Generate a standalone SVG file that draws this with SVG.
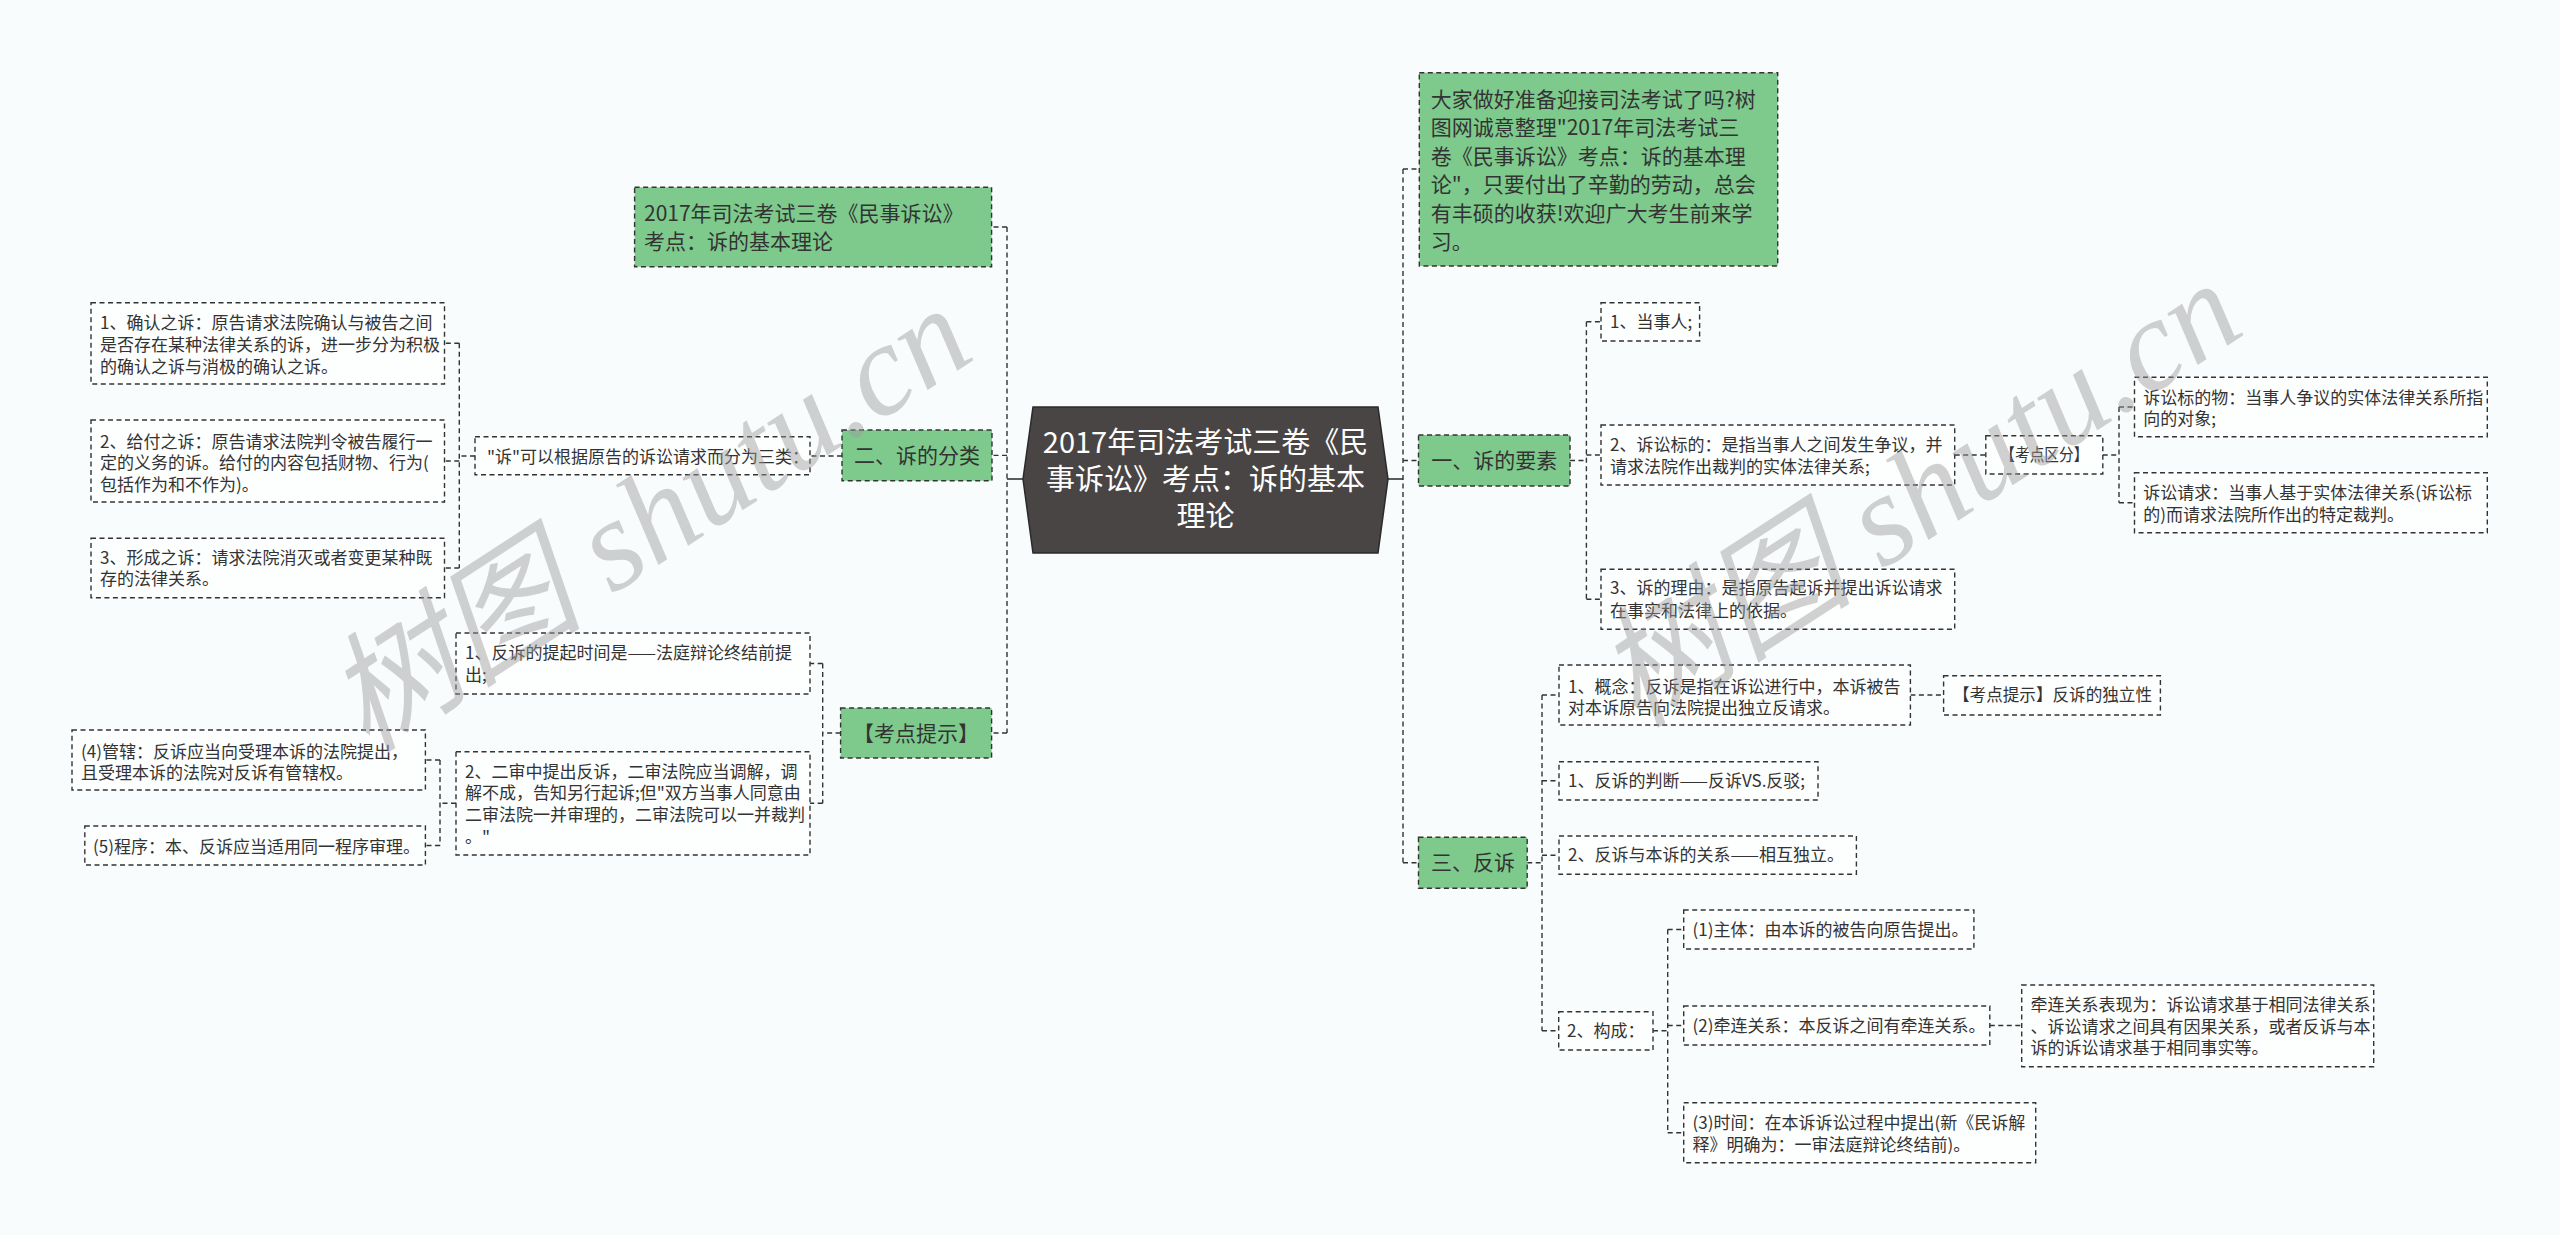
<svg xmlns="http://www.w3.org/2000/svg" width="2560" height="1235" viewBox="0 0 2560 1235">
<style>
.bg{fill:#f9fcfd}
.g{fill:#7dca8c;stroke:#333;stroke-width:1.4;stroke-dasharray:5 3.5}
.w{fill:#fdfefe;stroke:#333;stroke-width:1.4;stroke-dasharray:5 3.5}
.t{font-family:"Noto Sans CJK SC","Noto Sans",sans-serif;fill:#333}
.s{font-size:17px}
.m{font-size:21px}
.c{font-size:29px;fill:#ffffff}
.ln{fill:none;stroke:#333;stroke-width:1.4;stroke-dasharray:5 3.5}
.sl{fill:none;stroke:#333;stroke-width:1.6}
.wm{font-family:"Liberation Serif","Noto Sans CJK SC",serif;font-style:italic;font-size:130px;fill:#9a9a9a;opacity:0.45}
</style>
<rect class="bg" x="0" y="0" width="2560" height="1235"/>

<g id="connectors">
<path class="sl" d="M1023,479 H1007"/>
<path class="ln" d="M1007,227 V733 M1007,227 H992 M1007,455.4 H992 M1007,733 H992"/>
<path class="sl" d="M1388,479 H1403"/>
<path class="ln" d="M1403,169 V862.8 M1403,169 H1419.3 M1403,460.5 H1418.5 M1403,862.8 H1418.5"/>
<path class="ln" d="M842,456 H810"/>
<path class="ln" d="M475,456 H459.3 M459.3,343.3 V568 M459.3,343.3 H444.5 M459.3,461 H444.5 M459.3,568 H444.5"/>
<path class="ln" d="M840.6,733 H822.7 M822.7,663.5 V803.3 M822.7,663.5 H810 M822.7,803.3 H810"/>
<path class="ln" d="M456,803.3 H440 M440,760 V845.5 M440,760 H425.4 M440,845.5 H425.4"/>
<path class="ln" d="M1570,460.5 H1586.4 M1586.4,321.8 V599.3 M1586.4,321.8 H1601 M1586.4,455 H1601 M1586.4,599.3 H1601"/>
<path class="ln" d="M1954.7,455 H1985.8"/>
<path class="ln" d="M2102.7,455 H2119 M2119,407 V502.7 M2119,407 H2134.5 M2119,502.7 H2134.5"/>
<path class="ln" d="M1527.2,862.8 H1542 M1542,695 V1030.8 M1542,695 H1559 M1542,780.8 H1559 M1542,855.2 H1559 M1542,1030.8 H1558.7"/>
<path class="ln" d="M1910.4,695 H1943.6"/>
<path class="ln" d="M1653,1030.8 H1667.7 M1667.7,929.5 V1132.7 M1667.7,929.5 H1683.7 M1667.7,1025.5 H1683.7 M1667.7,1132.7 H1683.7"/>
<path class="ln" d="M1989.8,1025.5 H2021.7"/>
</g>

<g id="root">
<polygon points="1023,479 1033,407 1378,407 1388,479 1378,553 1033,553" fill="#4a4545" stroke="#2a2a2a" stroke-width="1.5"/>
<text class="t c" text-anchor="middle"><tspan x="1205.5" y="453.4">2017年司法考试三卷《民</tspan><tspan x="1205.5" y="490.4">事诉讼》考点：诉的基本</tspan><tspan x="1205.5" y="527.4">理论</tspan></text>
</g>

<g id="node-title-left">
<rect class="g" x="634.6" y="187.3" width="357" height="79.4"/>
<text class="t m"><tspan x="644" y="220.6">2017年司法考试三卷《民事诉讼》</tspan><tspan x="644" y="248.6">考点：诉的基本理论</tspan></text>
</g>

<g id="node-fenlei">
<rect class="g" x="842" y="430" width="150" height="50.7"/>
<text class="t m" x="917" y="463" text-anchor="middle">二、诉的分类</text>
</g>

<g id="node-fenlei-desc">
<rect class="w" x="475" y="436.7" width="335" height="38"/>
<text class="t s" x="487" y="462.8">"诉"可以根据原告的诉讼请求而分为三类：</text>
</g>

<g id="node-queren">
<rect class="w" x="91" y="302.7" width="353.5" height="81.3"/>
<text class="t s"><tspan x="100" y="329.4">1、确认之诉：原告请求法院确认与被告之间</tspan><tspan x="100" y="351.1">是否存在某种法律关系的诉，进一步分为积极</tspan><tspan x="100" y="372.8">的确认之诉与消极的确认之诉。</tspan></text>
</g>

<g id="node-geifu">
<rect class="w" x="91" y="420" width="353.5" height="82"/>
<text class="t s"><tspan x="100" y="447.8">2、给付之诉：原告请求法院判令被告履行一</tspan><tspan x="100" y="469.1">定的义务的诉。给付的内容包括财物、行为(</tspan><tspan x="100" y="491.1">包括作为和不作为)。</tspan></text>
</g>

<g id="node-xingcheng">
<rect class="w" x="91" y="538.3" width="353.5" height="59.4"/>
<text class="t s"><tspan x="100" y="563.8">3、形成之诉：请求法院消灭或者变更某种既</tspan><tspan x="100" y="585.4">存的法律关系。</tspan></text>
</g>

<g id="node-kaodian-tishi">
<rect class="g" x="840.6" y="708" width="151" height="50"/>
<text class="t m" x="916" y="740.6" text-anchor="middle">【考点提示】</text>
</g>

<g id="node-tiqi-shijian">
<rect class="w" x="456" y="633" width="354" height="61"/>
<text class="t s"><tspan x="465" y="659.1">1、反诉的提起时间是——法庭辩论终结前提</tspan><tspan x="465" y="681.1">出;</tspan></text>
</g>

<g id="node-ershen">
<rect class="w" x="456" y="751.7" width="354" height="103.3"/>
<text class="t s"><tspan x="465" y="777.8">2、二审中提出反诉，二审法院应当调解，调</tspan><tspan x="465" y="799.1">解不成，告知另行起诉;但"双方当事人同意由</tspan><tspan x="465" y="821.1">二审法院一并审理的，二审法院可以一并裁判</tspan><tspan x="465" y="842.8">。"</tspan></text>
</g>

<g id="node-guanxia">
<rect class="w" x="72" y="730" width="353.4" height="60"/>
<text class="t s"><tspan x="81" y="757.8">(4)管辖：反诉应当向受理本诉的法院提出，</tspan><tspan x="81" y="778.8">且受理本诉的法院对反诉有管辖权。</tspan></text>
</g>

<g id="node-chengxu">
<rect class="w" x="84.8" y="826" width="340.6" height="39"/>
<text class="t s" x="93" y="852.8">(5)程序：本、反诉应当适用同一程序审理。</text>
</g>

<g id="node-desc">
<rect class="g" x="1419.3" y="72.7" width="358.4" height="193.3"/>
<text class="t m"><tspan x="1430.7" y="106.9">大家做好准备迎接司法考试了吗?树</tspan><tspan x="1430.7" y="135.4">图网诚意整理"2017年司法考试三</tspan><tspan x="1430.7" y="163.9">卷《民事诉讼》考点：诉的基本理</tspan><tspan x="1430.7" y="192.4">论"，只要付出了辛勤的劳动，总会</tspan><tspan x="1430.7" y="220.9">有丰硕的收获!欢迎广大考生前来学</tspan><tspan x="1430.7" y="249.4">习。</tspan></text>
</g>

<g id="node-yaosu">
<rect class="g" x="1418.5" y="435" width="151.5" height="51"/>
<text class="t m" x="1494.2" y="468.1" text-anchor="middle">一、诉的要素</text>
</g>

<g id="node-dangshiren">
<rect class="w" x="1601" y="302.7" width="98.6" height="38.3"/>
<text class="t s" x="1610" y="327.9">1、当事人;</text>
</g>

<g id="node-biaodi">
<rect class="w" x="1601" y="425" width="353.7" height="60"/>
<text class="t s"><tspan x="1610" y="451.1">2、诉讼标的：是指当事人之间发生争议，并</tspan><tspan x="1610" y="472.8">请求法院作出裁判的实体法律关系;</tspan></text>
</g>

<g id="node-liyou">
<rect class="w" x="1601" y="569.3" width="353.7" height="60"/>
<text class="t s"><tspan x="1610" y="594.4">3、诉的理由：是指原告起诉并提出诉讼请求</tspan><tspan x="1610" y="616.8">在事实和法律上的依据。</tspan></text>
</g>

<g id="node-kaodian-qufen">
<rect class="w" x="1985.8" y="435.7" width="117" height="38.3"/>
<text class="t s" x="2044.3" y="460.9" text-anchor="middle" textLength="88" lengthAdjust="spacingAndGlyphs">【考点区分】</text>
</g>

<g id="node-biaodiwu">
<rect class="w" x="2134.5" y="377.3" width="352.8" height="59.4"/>
<text class="t s"><tspan x="2143.3" y="404.4">诉讼标的物：当事人争议的实体法律关系所指</tspan><tspan x="2143.3" y="425.4">向的对象;</tspan></text>
</g>

<g id="node-qingqiu">
<rect class="w" x="2134.5" y="472.7" width="352.8" height="60"/>
<text class="t s"><tspan x="2143.3" y="499.4">诉讼请求：当事人基于实体法律关系(诉讼标</tspan><tspan x="2143.3" y="521.1">的)而请求法院所作出的特定裁判。</tspan></text>
</g>

<g id="node-fansu">
<rect class="g" x="1418.5" y="837.3" width="108.7" height="51"/>
<text class="t m" x="1472.9" y="870.4" text-anchor="middle">三、反诉</text>
</g>

<g id="node-gainian">
<rect class="w" x="1559" y="665" width="351.4" height="60"/>
<text class="t s"><tspan x="1568" y="692.8">1、概念：反诉是指在诉讼进行中，本诉被告</tspan><tspan x="1568" y="714.4">对本诉原告向法院提出独立反请求。</tspan></text>
</g>

<g id="node-duli">
<rect class="w" x="1943.6" y="675.7" width="216.8" height="39.3"/>
<text class="t s" x="1953" y="701.4" textLength="199" lengthAdjust="spacingAndGlyphs">【考点提示】反诉的独立性</text>
</g>

<g id="node-panduan">
<rect class="w" x="1559" y="761.7" width="259" height="38.3"/>
<text class="t s" x="1568" y="786.9">1、反诉的判断——反诉VS.反驳;</text>
</g>

<g id="node-guanxi">
<rect class="w" x="1559" y="836" width="297.4" height="38.3"/>
<text class="t s" x="1568" y="861.3">2、反诉与本诉的关系——相互独立。</text>
</g>

<g id="node-goucheng">
<rect class="w" x="1558.7" y="1011.7" width="94.3" height="38.3"/>
<text class="t s" x="1567" y="1036.9">2、构成：</text>
</g>

<g id="node-zhuti">
<rect class="w" x="1683.7" y="910" width="290.2" height="39"/>
<text class="t s" x="1692.5" y="935.6">(1)主体：由本诉的被告向原告提出。</text>
</g>

<g id="node-qianlian">
<rect class="w" x="1683.7" y="1006" width="306.1" height="39"/>
<text class="t s" x="1692.5" y="1031.6">(2)牵连关系：本反诉之间有牵连关系。</text>
</g>

<g id="node-qianlian-biaoxian">
<rect class="w" x="2021.7" y="985" width="352" height="81.7"/>
<text class="t s"><tspan x="2030.6" y="1011.1">牵连关系表现为：诉讼请求基于相同法律关系</tspan><tspan x="2030.6" y="1032.8">、诉讼请求之间具有因果关系，或者反诉与本</tspan><tspan x="2030.6" y="1054.4">诉的诉讼请求基于相同事实等。</tspan></text>
</g>

<g id="node-shijian">
<rect class="w" x="1683.7" y="1102.7" width="352" height="60"/>
<text class="t s"><tspan x="1692.5" y="1129.4">(3)时间：在本诉诉讼过程中提出(新《民诉解</tspan><tspan x="1692.5" y="1151.1">释》明确为：一审法庭辩论终结前)。</tspan></text>
</g>

<g id="watermarks">
<text class="wm" transform="translate(648,518) rotate(-33)" x="0" y="45" text-anchor="middle">树图 shutu.cn</text>
<text class="wm" transform="translate(1918,493) rotate(-33)" x="0" y="45" text-anchor="middle">树图 shutu.cn</text>
</g>
</svg>
